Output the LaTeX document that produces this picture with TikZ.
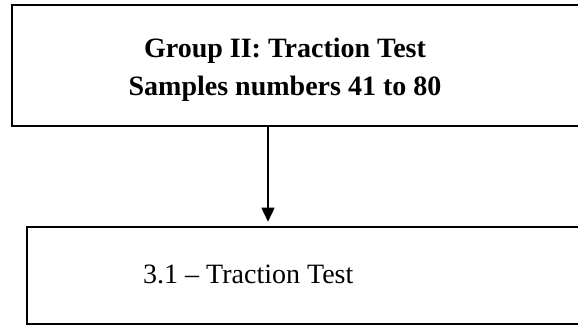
\documentclass[tikz,border=0pt]{standalone}
\usepackage{fontspec}
\setmainfont{Liberation Serif}
\usetikzlibrary{arrows.meta,positioning,calc}

\begin{document}
\begin{tikzpicture}[
    x=1pt, y=-1pt,
    % --- Node styles ---
    box/.style={draw, line width=2.6pt, rectangle, inner sep=0pt},
    grouptext/.style={font=\fontsize{28}{38}\selectfont\bfseries, align=center, inner sep=0pt},
    steptext/.style={font=\fontsize{28}{34}\selectfont, inner sep=0pt},
    % --- Connector style ---
    link/.style={draw, line width=1.5pt, -{Triangle[width=13pt,length=14pt]}, shorten >=4pt},
]

\useasboundingbox (0,0) rectangle (578,325);

% === Boxes ===
\node[box, minimum width=578pt, minimum height=121pt] (group) at (301,65.5) {};
\node[box, minimum width=573pt, minimum height=97pt] (traction) at (313.5,275.5) {};

% === Labels ===
\node[grouptext] (grouplabel) at (285,70) {Group II: Traction Test\\Samples numbers 41 to 80};
\node[steptext, anchor=base west] (steplabel) at (143,283) {3.1 \textendash{} Traction Test};

% === Connector ===
\coordinate (stem) at (268,0);
\draw[link] (group.south -| stem) -- (traction.north -| stem);

\end{tikzpicture}
\end{document}
